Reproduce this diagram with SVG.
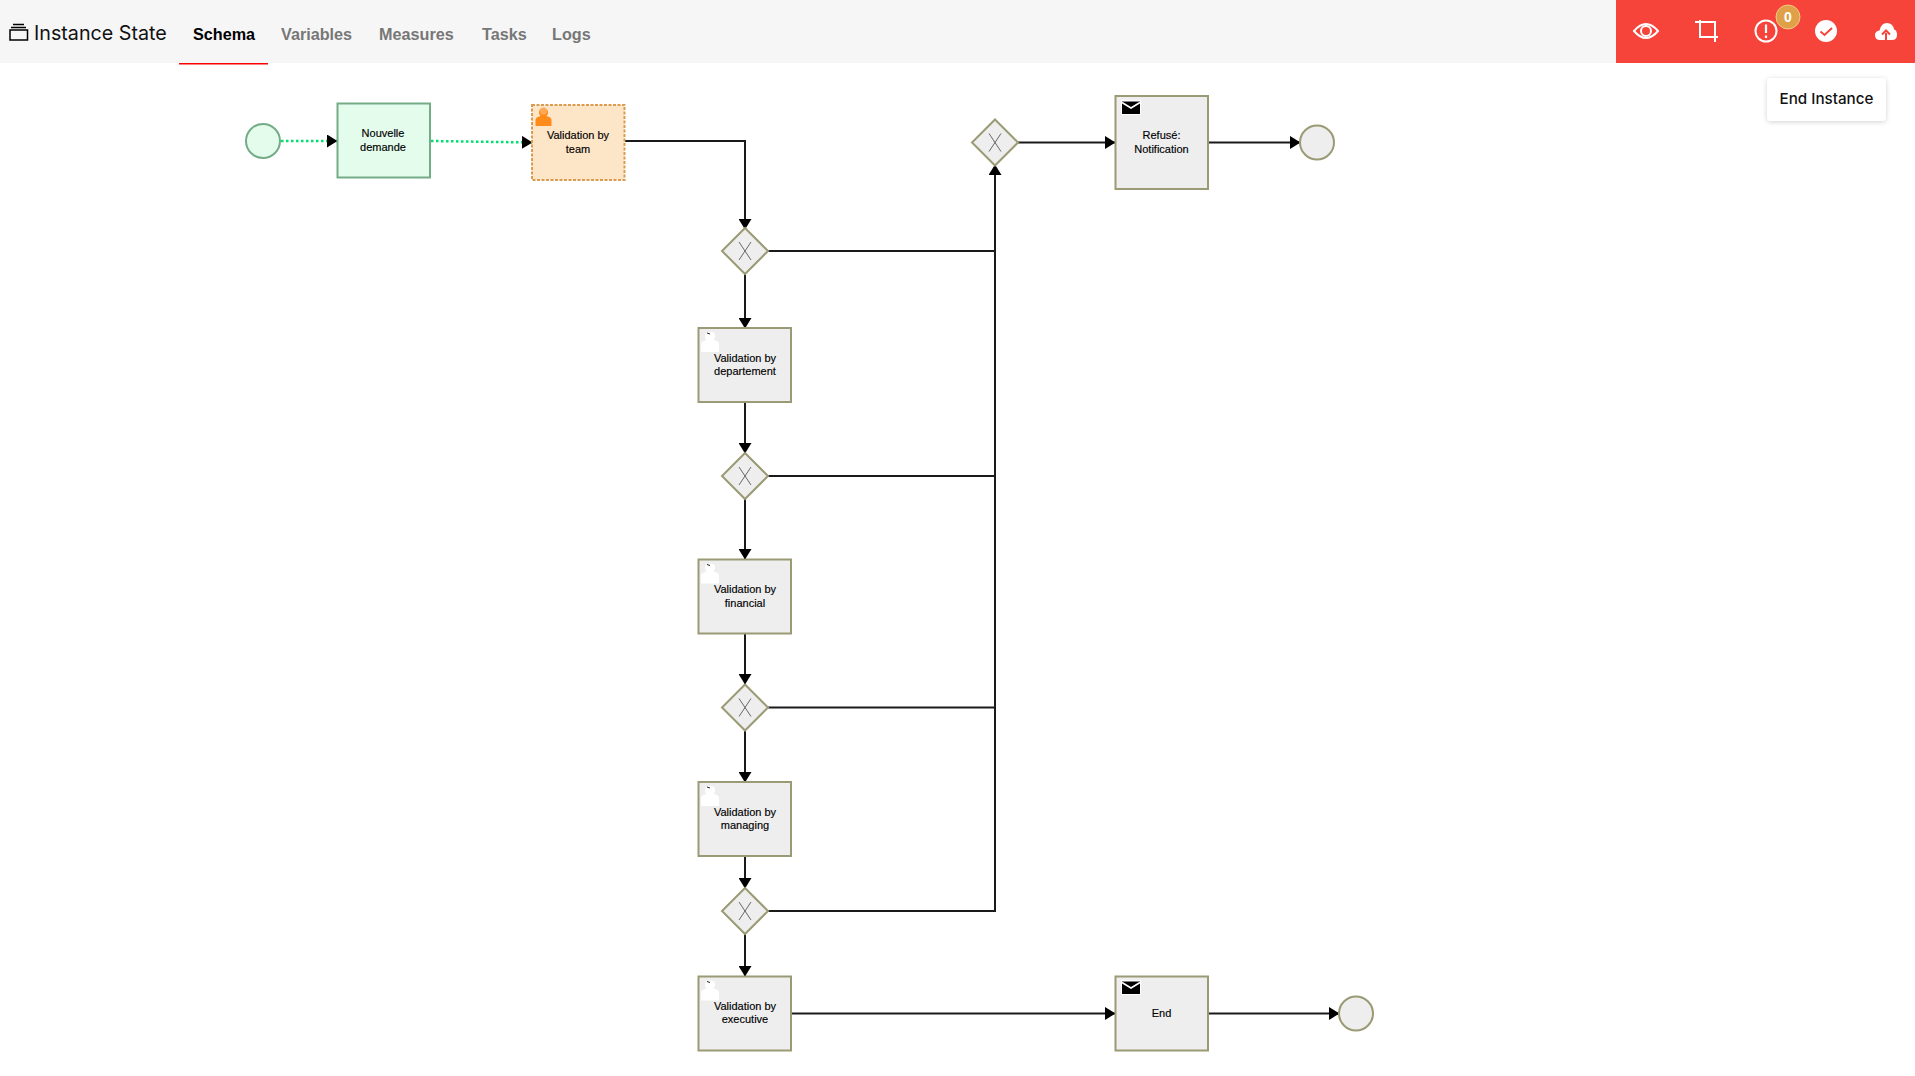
<svg xmlns="http://www.w3.org/2000/svg" width="1915" height="1076" viewBox="0 0 1915 1076">
<style>
text{font-family:"Liberation Sans",Arial,sans-serif}
.task{fill:#eeeeee;stroke:#9a9a74;stroke-width:2}
.gw{fill:#eeeeee;stroke:#9a9a74;stroke-width:2}
.x{stroke:#444;stroke-width:.8;fill:none}
.end{fill:#eeeeee;stroke:#9a9a74;stroke-width:2}
.lbl{font-size:11px;fill:#000;text-anchor:middle;stroke:#000;stroke-width:.15}
.tab{font-size:16.200px;font-weight:700;fill:#777}
.flow{fill:none;stroke:#1a1a1a;stroke-width:2;marker-end:url(#a)}
.flow2{fill:none;stroke:#1a1a1a;stroke-width:2}
.done{fill:none;stroke:#00e070;stroke-width:2.500;stroke-dasharray:2.500 2.500;marker-end:url(#a)}
.ic{fill:none;stroke:#fff;stroke-width:2}
</style>
<defs>
<marker id="a" markerUnits="userSpaceOnUse" markerWidth="11" markerHeight="13" refX="10" refY="6.500" orient="auto"><path d="M0 0L10.500 6.500L0 13z" fill="#000"/></marker>
<filter id="sh" x="-20%" y="-30%" width="140%" height="160%"><feDropShadow dx="0" dy="1" stdDeviation="2.500" flood-color="#000" flood-opacity=".18"/></filter>
<g id="person"><path d="M-9 13V5Q-9 2-3.500 1Q-5.500-1-5-4Q-4.500-7 0-7Q4.500-7 5-4Q5.500-1 3.500 1Q9 2 9 5V13z" fill="#fff"/><path d="M-3-6L0-5" stroke="#222" stroke-width="1"/></g>
<g id="mail"><rect x="-10" y="-8" width="20" height="15" fill="#fff"/><rect x="-9" y="-6.500" width="18" height="12.500" fill="#000"/><path d="M-9-5.500L0 0L9-5.500" fill="none" stroke="#fff" stroke-width="1.500"/></g>
<path id="xm" class="x" d="M-6-9L6 9M6-9L-6 9"/>
</defs>
<rect width="1915" height="1076" fill="#fff"/>
<g id="header">
<rect width="1616" height="63" fill="#f6f6f6"/>
<rect x="179" y="63" width="89" height="1.500" fill="#f00"/>
<path d="M13 24.500H24M11 27.500H26" stroke="#000" stroke-width="1.300"/><rect x="10" y="30" width="17.500" height="10" fill="none" stroke="#000" stroke-width="1.500"/>
<text x="34" y="40" style="font-family:Inter,sans-serif;font-size:19.700px" fill="#111">Instance State</text>
<text x="193" y="40" class="tab" style="fill:#000">Schema</text>
<text x="281" y="40" class="tab">Variables</text>
<text x="379" y="40" class="tab">Measures</text>
<text x="482" y="40" class="tab">Tasks</text>
<text x="552" y="40" class="tab">Logs</text>
</g>
<g id="toolbar">
<rect x="1616" width="299" height="63" fill="#f6443a"/>
<path class="ic" d="M1634 31Q1646 17 1658 31Q1646 45 1634 31z"/><circle class="ic" cx="1646" cy="31" r="5"/>
<path class="ic" d="M1695 22H1715V42M1700 20V37H1718"/>
<circle class="ic" cx="1766" cy="31" r="10.500"/><path d="M1766 24.500V33M1766 35.500V38" stroke="#fff" stroke-width="2.200"/>
<circle cx="1788" cy="17" r="12" fill="#e0a048" stroke="#f2c98a" stroke-width="1"/><text x="1788" y="22" text-anchor="middle" font-size="14" font-weight="700" fill="#fff">0</text>
<circle cx="1826" cy="31" r="11" fill="#fff"/><path d="M1820.500 31.500L1824.500 35L1832 28" fill="none" stroke="#f6443a" stroke-width="2"/>
<path d="M1880 40Q1875 40 1875 35Q1875 31 1879.500 30.500Q1881 23 1887 23Q1893 23 1894 29.500Q1897 30 1897 35Q1897 40 1892 40z" fill="#fff"/><path d="M1886 40V33M1882 34.500L1886 30.500L1890 34.500" fill="none" stroke="#f6443a" stroke-width="2"/>
</g>
<g id="tooltip">
<path d="M1821 78L1827 75L1833 78z" fill="#fff"/>
<rect x="1767" y="78" width="119" height="43" rx="4" fill="#fff" filter="url(#sh)"/>
<text x="1826.500" y="104" text-anchor="middle" style="font-family:Inter,sans-serif;font-size:15.200px;font-weight:500" fill="#111">End Instance</text>
</g>
<g id="connectors">
<path class="done" d="M281 141H337"/>
<path class="done" d="M431 141L532 142.500"/>
<path class="flow" d="M625 141H745V229"/>
<path class="flow" d="M745 274V328"/>
<path class="flow" d="M745 402V453"/>
<path class="flow" d="M745 499V559"/>
<path class="flow" d="M745 634V684"/>
<path class="flow" d="M745 730V782"/>
<path class="flow" d="M745 856V888"/>
<path class="flow" d="M745 934V976"/>
<path class="flow2" d="M768 251H995M768 476H995M768 707.500H995"/>
<path class="flow" d="M768 911H995V165"/>
<path class="flow" d="M1018 142.500H1115"/>
<path class="flow" d="M1209 142.500H1300"/>
<path class="flow" d="M791 1013.500H1115"/>
<path class="flow" d="M1209 1013.500H1339"/>
</g>
<g id="start"><circle cx="263" cy="141" r="17" fill="#e4fcec" stroke="#74ac88" stroke-width="2"/></g>
<g id="t-nouvelle"><rect x="337.500" y="103.500" width="92.500" height="74" fill="#e4fcec" stroke="#74ac88" stroke-width="2"/><text class="lbl" x="383" y="137">Nouvelle</text><text class="lbl" x="383" y="151">demande</text></g>
<g id="t-team"><rect x="532" y="105" width="92.500" height="75" fill="#fde5c8" stroke="#dc9c50" stroke-width="2" stroke-dasharray="3 1.500"/>
<g transform="translate(543.500 115)"><path d="M-8 11V5Q-8 2-3 1Q-5-1-4.500-3.500Q-4-6.500 0-6.500Q4-6.500 4.500-3.500Q5-1 3 1Q8 2 8 5V11z" fill="#ff8c1a"/><circle cy="-4" r="3.500" fill="#ffa858"/></g>
<text class="lbl" x="578" y="139">Validation by</text><text class="lbl" x="578" y="153">team</text></g>
<g id="g1"><path class="gw" d="M745 228L768 251L745 274L722 251z"/><use href="#xm" x="745" y="251"/></g>
<g id="t-dept"><rect class="task" x="698.500" y="328" width="92.500" height="74"/><use href="#person" x="710" y="339"/><text class="lbl" x="745" y="362">Validation by</text><text class="lbl" x="745" y="375">departement</text></g>
<g id="g2"><path class="gw" d="M745 453L768 476L745 499L722 476z"/><use href="#xm" x="745" y="476"/></g>
<g id="t-fin"><rect class="task" x="698.500" y="559.500" width="92.500" height="74"/><use href="#person" x="710" y="570.500"/><text class="lbl" x="745" y="593">Validation by</text><text class="lbl" x="745" y="607">financial</text></g>
<g id="g3"><path class="gw" d="M745 684.500L768 707.500L745 730.500L722 707.500z"/><use href="#xm" x="745" y="707.500"/></g>
<g id="t-man"><rect class="task" x="698.500" y="782" width="92.500" height="74"/><use href="#person" x="710" y="793"/><text class="lbl" x="745" y="816">Validation by</text><text class="lbl" x="745" y="829">managing</text></g>
<g id="g4"><path class="gw" d="M745 888L768 911L745 934L722 911z"/><use href="#xm" x="745" y="911"/></g>
<g id="t-exec"><rect class="task" x="698.500" y="976.500" width="92.500" height="74"/><use href="#person" x="710" y="987.500"/><text class="lbl" x="745" y="1010">Validation by</text><text class="lbl" x="745" y="1023">executive</text></g>
<g id="g5"><path class="gw" d="M995 119.500L1018 142.500L995 165.500L972 142.500z"/><use href="#xm" x="995" y="142.500"/></g>
<g id="t-ref"><rect class="task" x="1115.500" y="96" width="92.500" height="93"/><use href="#mail" x="1131" y="108"/><text class="lbl" x="1161.500" y="139">Refusé:</text><text class="lbl" x="1161.500" y="153">Notification</text></g>
<g id="e1"><circle class="end" cx="1317" cy="142.500" r="17"/></g>
<g id="t-end"><rect class="task" x="1115.500" y="976.500" width="92.500" height="74"/><use href="#mail" x="1131" y="988"/><text class="lbl" x="1161.500" y="1017">End</text></g>
<g id="e2"><circle class="end" cx="1356" cy="1013.500" r="17"/></g>
</svg>
